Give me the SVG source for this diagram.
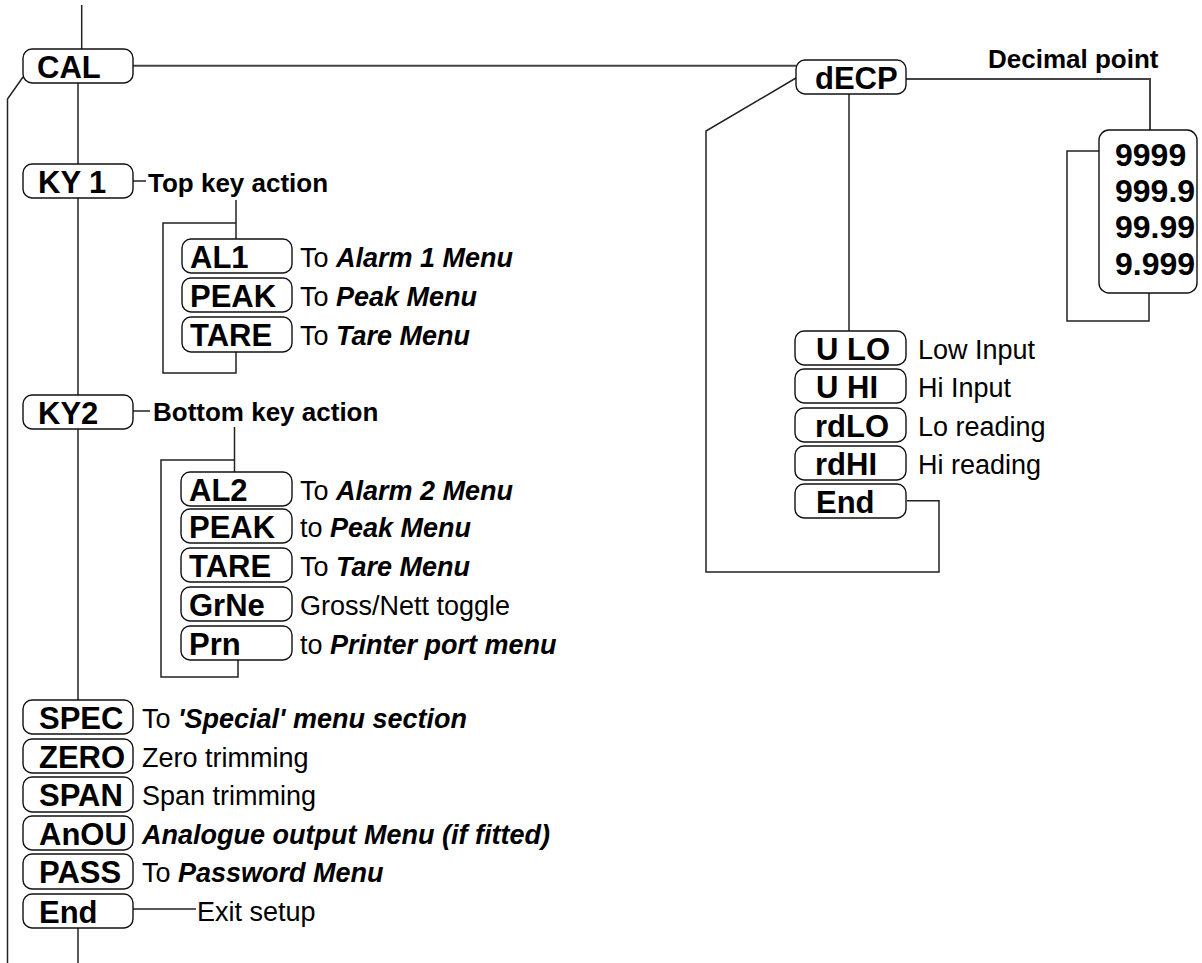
<svg xmlns="http://www.w3.org/2000/svg" width="1202" height="963" viewBox="0 0 1202 963">
<style>
.bx{fill:#fff;stroke:#111;stroke-width:1.4}
.nl{font-family:"Liberation Sans",Arial,sans-serif;font-weight:bold;font-size:31px;fill:#000}
.dg{font-size:32px}
.ds{font-family:"Liberation Sans",Arial,sans-serif;font-size:27px;fill:#000}
.bi{font-weight:bold;font-style:italic}
.sl{font-family:"Liberation Sans",Arial,sans-serif;font-weight:bold;font-size:26px;fill:#000}
.cn{fill:none;stroke:#222;stroke-width:1.5}
.cg{fill:none;stroke:#444;stroke-width:2}
</style>
<rect width="1202" height="963" fill="#fff"/>
<g id="connectors">
<line class="cn" x1="81.7" y1="5" x2="81.7" y2="49"/>
<polyline class="cn" points="23,77 7.5,99 7.5,963"/>
<line class="cn" x1="78" y1="83" x2="78" y2="164"/>
<line class="cn" x1="78" y1="198" x2="78" y2="395"/>
<line class="cn" x1="78" y1="429" x2="78" y2="700"/>
<line class="cn" x1="78" y1="928" x2="78" y2="963"/>
<line class="cg" x1="133" y1="65.7" x2="796" y2="65.7"/>
<line class="cn" x1="133" y1="181" x2="146" y2="181"/>
<line class="cn" x1="236" y1="200" x2="236" y2="239"/>
<polyline class="cn" points="236,223 163,223 163,373 236,373 236,352"/>
<line class="cn" x1="133" y1="411" x2="150" y2="411"/>
<line class="cn" x1="234.5" y1="427" x2="234.5" y2="472"/>
<polyline class="cn" points="234.5,460 161,460 161,677 238,677 238,660"/>
<line class="cn" x1="133" y1="909" x2="196" y2="909"/>
<polyline class="cn" points="796,78 706,131 706,572 939,572 939,500.7 907,500.7"/>
<line class="cn" x1="849" y1="94" x2="849" y2="331"/>
<polyline class="cg" points="906,79 1150,79 1150,130"/>
<polyline class="cn" points="1099,151 1067,151 1067,321 1149,321 1149,293"/>
</g>
<g id="CAL"><rect class="bx" x="23" y="49" width="110" height="34" rx="9"/><text class="nl" x="37" y="78">CAL</text></g>
<g id="KY1"><rect class="bx" x="23" y="164" width="110" height="34" rx="9"/><text class="nl" x="38" y="193">KY 1</text><text class="sl" x="148" y="192">Top key action</text></g>
<g id="AL1"><rect class="bx" x="182" y="239" width="110" height="34" rx="9"/><text class="nl" x="190" y="268">AL1</text><text class="ds" x="300" y="267">To <tspan class="bi">Alarm 1 Menu</tspan></text></g>
<g id="PEAK1"><rect class="bx" x="182" y="278" width="110" height="34" rx="9"/><text class="nl" x="190" y="307">PEAK</text><text class="ds" x="300" y="306">To <tspan class="bi">Peak Menu</tspan></text></g>
<g id="TARE1"><rect class="bx" x="182" y="317" width="110" height="35" rx="9"/><text class="nl" x="190" y="346">TARE</text><text class="ds" x="300" y="345">To <tspan class="bi">Tare Menu</tspan></text></g>
<g id="KY2"><rect class="bx" x="23" y="395" width="110" height="34" rx="9"/><text class="nl" x="38" y="424">KY2</text><text class="sl" x="153" y="421">Bottom key action</text></g>
<g id="AL2"><rect class="bx" x="181" y="472" width="111" height="34" rx="9"/><text class="nl" x="189" y="501">AL2</text><text class="ds" x="300" y="500">To <tspan class="bi">Alarm 2 Menu</tspan></text></g>
<g id="PEAK2"><rect class="bx" x="181" y="509" width="111" height="34" rx="9"/><text class="nl" x="189" y="538">PEAK</text><text class="ds" x="300" y="537">to <tspan class="bi">Peak Menu</tspan></text></g>
<g id="TARE2"><rect class="bx" x="181" y="548" width="111" height="34" rx="9"/><text class="nl" x="189" y="577">TARE</text><text class="ds" x="300" y="576">To <tspan class="bi">Tare Menu</tspan></text></g>
<g id="GrNe"><rect class="bx" x="181" y="587" width="111" height="34" rx="9"/><text class="nl" x="189" y="616">GrNe</text><text class="ds" x="300" y="615">Gross/Nett toggle</text></g>
<g id="Prn"><rect class="bx" x="181" y="626" width="111" height="34" rx="9"/><text class="nl" x="189" y="655">Prn</text><text class="ds" x="300" y="654">to <tspan class="bi">Printer port menu</tspan></text></g>
<g id="SPEC"><rect class="bx" x="23" y="700" width="110" height="34" rx="9"/><text class="nl" x="39" y="729">SPEC</text><text class="ds" x="142" y="728">To <tspan class="bi">'Special' menu section</tspan></text></g>
<g id="ZERO"><rect class="bx" x="23" y="739" width="110" height="34" rx="9"/><text class="nl" x="39" y="768">ZERO</text><text class="ds" x="142" y="767">Zero trimming</text></g>
<g id="SPAN"><rect class="bx" x="23" y="777" width="110" height="35" rx="9"/><text class="nl" x="39" y="806">SPAN</text><text class="ds" x="142" y="805">Span trimming</text></g>
<g id="AnOU"><rect class="bx" x="23" y="816" width="110" height="34" rx="9"/><text class="nl" x="39" y="845">AnOU</text><text class="ds bi" x="142" y="844">Analogue output Menu (if fitted)</text></g>
<g id="PASS"><rect class="bx" x="23" y="854" width="110" height="35" rx="9"/><text class="nl" x="39" y="883">PASS</text><text class="ds" x="142" y="882">To <tspan class="bi">Password Menu</tspan></text></g>
<g id="End1"><rect class="bx" x="23" y="894" width="110" height="34" rx="9"/><text class="nl" x="39" y="923">End</text><text class="ds" x="197" y="921">Exit setup</text></g>
<g id="dECP"><rect class="bx" x="796" y="60" width="110" height="34" rx="9"/><text class="nl" x="815" y="89">dECP</text><text class="sl" x="988" y="68">Decimal point</text></g>
<g id="decimals"><rect class="bx" x="1099" y="130" width="98" height="163" rx="10"/><text class="nl dg" x="1115" y="166">9999</text><text class="nl dg" x="1115" y="202">999.9</text><text class="nl dg" x="1115" y="238">99.99</text><text class="nl dg" x="1115" y="275">9.999</text></g>
<g id="ULO"><rect class="bx" x="795" y="331" width="111" height="34" rx="9"/><text class="nl" x="816" y="360">U LO</text><text class="ds" x="918" y="359">Low Input</text></g>
<g id="UHI"><rect class="bx" x="795" y="369" width="111" height="34" rx="9"/><text class="nl" x="816" y="398">U HI</text><text class="ds" x="918" y="397">Hi Input</text></g>
<g id="rdLO"><rect class="bx" x="795" y="408" width="111" height="34" rx="9"/><text class="nl" x="815" y="437">rdLO</text><text class="ds" x="918" y="436">Lo reading</text></g>
<g id="rdHI"><rect class="bx" x="795" y="446" width="111" height="34" rx="9"/><text class="nl" x="815" y="475">rdHI</text><text class="ds" x="918" y="474">Hi reading</text></g>
<g id="End2"><rect class="bx" x="795" y="484" width="111" height="34" rx="9"/><text class="nl" x="816" y="513">End</text></g>
</svg>
